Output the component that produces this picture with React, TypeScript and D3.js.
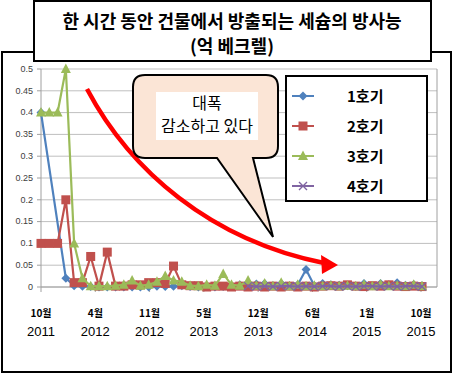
import React from 'react';
import * as d3 from 'd3';

// monthly readings, Oct 2011 .. 2015 (억 베크렐 per hour)
const unit1 = [0.4, null, null, 0.02, 0.003, 0.002, 0.001, 0, 0, 0, 0, 0, 0, 0, 0.002, 0.001, 0.002, 0.003, 0.001, 0, 0.002, 0, 0.001, 0.002, 0.005, 0.003, 0.007, 0.008, 0.003, 0.008, 0.003, 0.005, 0.04, 0.003, 0.008, 0.005, 0.004, 0.003, 0.002, 0.008, 0.003, 0.008, 0.005, 0.01, 0.004, 0.006, 0.003];
const unit2 = [0.1, 0.1, 0.1, 0.2, 0.01, 0.01, 0.07, 0.002, 0.08, 0.002, 0.002, 0.005, 0.005, 0.01, 0.01, 0.008, 0.048, 0.005, 0.003, 0.003, 0, 0.002, 0.002, 0, 0.002, 0, 0.002, 0, 0.002, 0, 0.002, 0, 0.002, 0, 0.002, 0.003, 0.002, 0.005, 0.002, 0.001, 0.003, 0.002, 0.005, 0.002, 0.001, 0.002, 0.001];
const unit3 = [0.4, 0.4, 0.4, 0.5, 0.1, 0.02, 0.002, 0.002, 0.002, 0.003, 0.005, 0.015, 0.003, 0.005, 0.012, 0.025, 0.015, 0.012, 0.003, 0.002, 0.005, 0.003, 0.03, 0.005, 0.003, 0.015, 0.003, 0.008, 0.002, 0.01, 0.002, 0.005, 0.002, 0.003, 0.002, 0.003, 0.002, 0.003, 0.002, 0.005, 0.002, 0.006, 0.002, 0.003, 0.002, 0.005, 0.002];
const unit4 = [null, null, null, null, null, null, null, null, null, null, null, null, null, null, null, null, null, null, null, null, null, null, null, null, null, 0.002, 0.001, 0.002, 0.001, 0.002, 0.002, 0.001, 0.002, 0.001, 0.002, 0.002, 0.001, 0.002, 0.001, 0.002, 0.002, 0.001, 0.002, 0.001, 0.002, 0.002, 0.001];

const seriesNames = ['1호기', '2호기', '3호기', '4호기'];
const seriesColors = ['#4F81BD', '#C0504D', '#9BBB59', '#8064A2'];
const seriesMarkers = ['diamond', 'square', 'triangle', 'cross'];

const tickMonths = ['10월', '4월', '11월', '5월', '12월', '6월', '1월', '10월'];
const tickYears = ['2011', '2012', '2012', '2013', '2013', '2014', '2015', '2015'];

const W = 454;
const H = 375;
const margin = { left: 41, top: 69, right: 17, bottom: 88 };
const iw = W - margin.left - margin.right;
const ih = H - margin.top - margin.bottom;

const Marker = ({ kind, color, x, y }) => {
  if (kind === 'diamond') {
    return <path d={`M${x},${y - 4.5}L${x + 4.5},${y}L${x},${y + 4.5}L${x - 4.5},${y}Z`} fill={color} />;
  }
  if (kind === 'square') {
    return <rect x={x - 4.5} y={y - 4.5} width={9} height={9} fill={color} />;
  }
  if (kind === 'triangle') {
    return <path d={`M${x},${y - 5.5}L${x + 5},${y + 4}L${x - 5},${y + 4}Z`} fill={color} />;
  }
  return (
    <path d={`M${x - 4},${y - 4}L${x + 4},${y + 4}M${x - 4},${y + 4}L${x + 4},${y - 4}`} stroke={color} strokeWidth={1.4} />
  );
};

const App = () => {
  const all = [unit1, unit2, unit3, unit4];
  const x = d3.scaleLinear().domain([0, unit1.length - 1]).range([0, 381]);
  const y = d3.scaleLinear().domain([0, 0.5]).range([ih, 0]);
  const tx = d3.scalePoint().domain(d3.range(tickMonths.length)).range([0, 380]);
  const yTicks = d3.range(0, 11).map((i) => i * 0.05);

  const line = d3.line().x((d) => x(d[0])).y((d) => y(d[1]));

  // callout bubble with tail
  const bx0 = 133, by0 = 75, bx1 = 278, by1 = 158, r = 12;
  const bubble = `M${bx0 + r},${by0}H${bx1 - r}Q${bx1},${by0} ${bx1},${by0 + r}V${by1 - r}Q${bx1},${by1} ${bx1 - r},${by1}` +
    `H253L273,237L217,${by1}H${bx0 + r}Q${bx0},${by1} ${bx0},${by1 - r}V${by0 + r}Q${bx0},${by0} ${bx0 + r},${by0}Z`;

  return (
    <svg width={W} height={H} style={{ position: 'absolute', left: 0, top: 0, background: '#fff' }}>
      <rect x={2} y={52} width={449} height={320} fill="#fff" stroke="#000" strokeWidth={2} />
      <rect x={34} y={1} width={397} height={60} fill="#fff" stroke="#000" strokeWidth={2} />
      <g fontFamily="'Noto Sans CJK KR', sans-serif" fontWeight="bold" fontSize={18} textAnchor="middle" fill="#000">
        <text x={232} y={28}>한 시간 동안 건물에서 방출되는 세슘의 방사능</text>
        <text x={232} y={53}>(억 베크렐)</text>
      </g>

      <g transform={`translate(${margin.left},${margin.top})`}>
        {yTicks.map((t) => (
          <g key={t} transform={`translate(0,${y(t)})`}>
            <line x1={0} x2={iw} stroke="#bfbfbf" strokeWidth={1} />
            <line x1={-4} x2={0} stroke="#a0a0a0" />
            <text x={-8} dy="0.32em" textAnchor="end" fontSize={9} fontFamily="'Liberation Sans', Arial, sans-serif" fill="#404040">
              {String(+t.toFixed(2))}
            </text>
          </g>
        ))}
        <line x1={0} x2={0} y1={0} y2={ih} stroke="#a0a0a0" />
        <line x1={iw} x2={iw} y1={0} y2={ih} stroke="#a0a0a0" />
        <line x1={0} x2={iw} y1={ih} y2={ih} stroke="#a0a0a0" />
        {tickMonths.map((m, i) => (
          <g key={i} transform={`translate(${tx(i)},${ih})`}>
            <line y1={0} y2={5} stroke="#a0a0a0" />
            <text y={30} textAnchor="middle" fontSize={10} fontWeight="bold" fontFamily="'Noto Sans CJK KR', sans-serif" fill="#000">{m}</text>
            <text y={49} textAnchor="middle" fontSize={13} fontFamily="'Liberation Sans', Arial, sans-serif" fill="#000">{tickYears[i]}</text>
          </g>
        ))}

        {all.map((vals, si) => {
          const pts = vals.map((v, i) => [i, v]).filter((d) => d[1] !== null);
          return (
            <g key={si}>
              <path d={line(pts)} fill="none" stroke={seriesColors[si]} strokeWidth={2.2} />
              {pts.map((d) => (
                <Marker key={d[0]} kind={seriesMarkers[si]} color={seriesColors[si]} x={x(d[0])} y={y(d[1])} />
              ))}
            </g>
          );
        })}
      </g>

      {/* red arrow */}
      <path d="M87,89C130,170 210,240 324,263" fill="none" stroke="#FF0000" strokeWidth={4.5} />
      <path d="M338,265L321,255L322,274Z" fill="#FF0000" />

      <path d={bubble} fill="#FBE5D6" stroke="#000" strokeWidth={2} />
      <rect x={156} y={92} width={102} height={48} fill="#fff" />
      <g fontFamily="'Noto Sans CJK KR', sans-serif" fontSize={16} textAnchor="middle" fill="#000">
        <text x={207} y={109}>대폭</text>
        <text x={207} y={132}>감소하고 있다</text>
      </g>

      <rect x={286} y={76} width={141} height={125} fill="#fff" stroke="#000" strokeWidth={2} />
      {seriesNames.map((name, i) => {
        const ly = 96 + i * 30;
        return (
          <g key={name}>
            <line x1={292} x2={314} y1={ly} y2={ly} stroke={seriesColors[i]} strokeWidth={2} />
            <Marker kind={seriesMarkers[i]} color={seriesColors[i]} x={303} y={ly} />
            <text x={347} y={ly + 6} fontSize={15} fontWeight="bold" fontFamily="'Noto Sans CJK KR', sans-serif" fill="#000">{name}</text>
          </g>
        );
      })}
    </svg>
  );
};

export default App;
